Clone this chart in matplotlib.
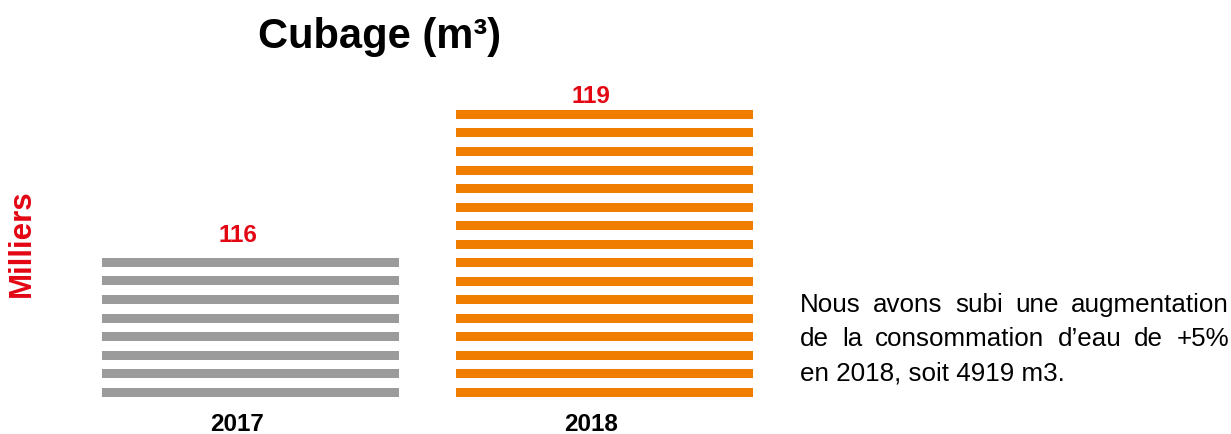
import numpy as np
import matplotlib.pyplot as plt
from matplotlib.transforms import ScaledTranslation

plt.rcParams['font.family'] = ['Liberation Sans', 'DejaVu Sans']

# ---- data ----
years = ['2017', '2018']
values = [116, 119]
value_labels = ['116', '119']
title = 'Cubage (m³)'
y_label = 'Milliers'
note_lines = ['Nous avons subi une augmentation',
              'de la consommation d’eau de +5%',
              'en 2018, soit 4919 m3.']

# ---- style ----
bar_colors = ['#9b9b9b', '#f07d00']
red = '#e30613'
y_base, y_top = 113.18, 120.5
stripe_pitch = 0.375      # data units
stripe_thick = 0.182
bar_width = 0.84
label_pad = [23, 14]      # px above bar, per bar

W, H = 1231, 435
fig = plt.figure(figsize=(W / 100, H / 100), dpi=100)
ax = fig.add_axes([0.0597, 0.0851, 0.575, 0.830])

def px(dx, dy):
    return ScaledTranslation(dx / 100, dy / 100, fig.dpi_scale_trans)

x = np.arange(len(years))
for i, v in enumerate(values):
    n = int(round((v - y_base - stripe_thick) / stripe_pitch)) + 1
    bottoms = np.linspace(y_base, v - stripe_thick, n)
    ax.bar(np.full(n, x[i]), stripe_thick, bottom=bottoms, width=bar_width,
           color=bar_colors[i], linewidth=0)
    ax.text(x[i], v, value_labels[i], color=red, fontsize=17.5, fontweight='bold',
            ha='center', va='center', transform=ax.transData + px(-13, label_pad[i]))
    # year label under the bar
    ax.text(x[i], y_base, years[i], fontsize=17.5, fontweight='bold',
            ha='center', va='baseline', transform=ax.transData + px(-13, -33))

ax.set_xlim(-0.5, 1.5)
ax.set_ylim(y_base, y_top)
ax.set_xticks([])
ax.set_yticks([])
for s in ax.spines.values():
    s.set_visible(False)

fig.text(380 / W, 1 - 37 / H, title, fontsize=30, fontweight='bold',
         ha='center', va='center')
fig.text(22 / W, 1 - 243 / H, y_label, fontsize=22.5, fontweight='bold',
         color=red, rotation=90, ha='center', va='center')

# note text, first lines justified
renderer = fig.canvas.get_renderer()
x_left, x_right = 800, 1229
for k, line in enumerate(note_lines):
    yk = 1 - (305 + 34.5 * k) / H
    if k == len(note_lines) - 1:
        fig.text(x_left / W, yk, line, fontsize=18.7, ha='left', va='center')
        continue
    words = line.split(' ')
    texts = [fig.text(x_left / W, yk, w, fontsize=18.7, ha='left', va='center')
             for w in words]
    widths = [t.get_window_extent(renderer).width for t in texts]
    gap = (x_right - x_left - sum(widths)) / (len(words) - 1)
    pos = x_left
    for t, wd in zip(texts, widths):
        t.set_x(pos / W)
        pos += wd + gap

fig.savefig('out.png', dpi=100)
